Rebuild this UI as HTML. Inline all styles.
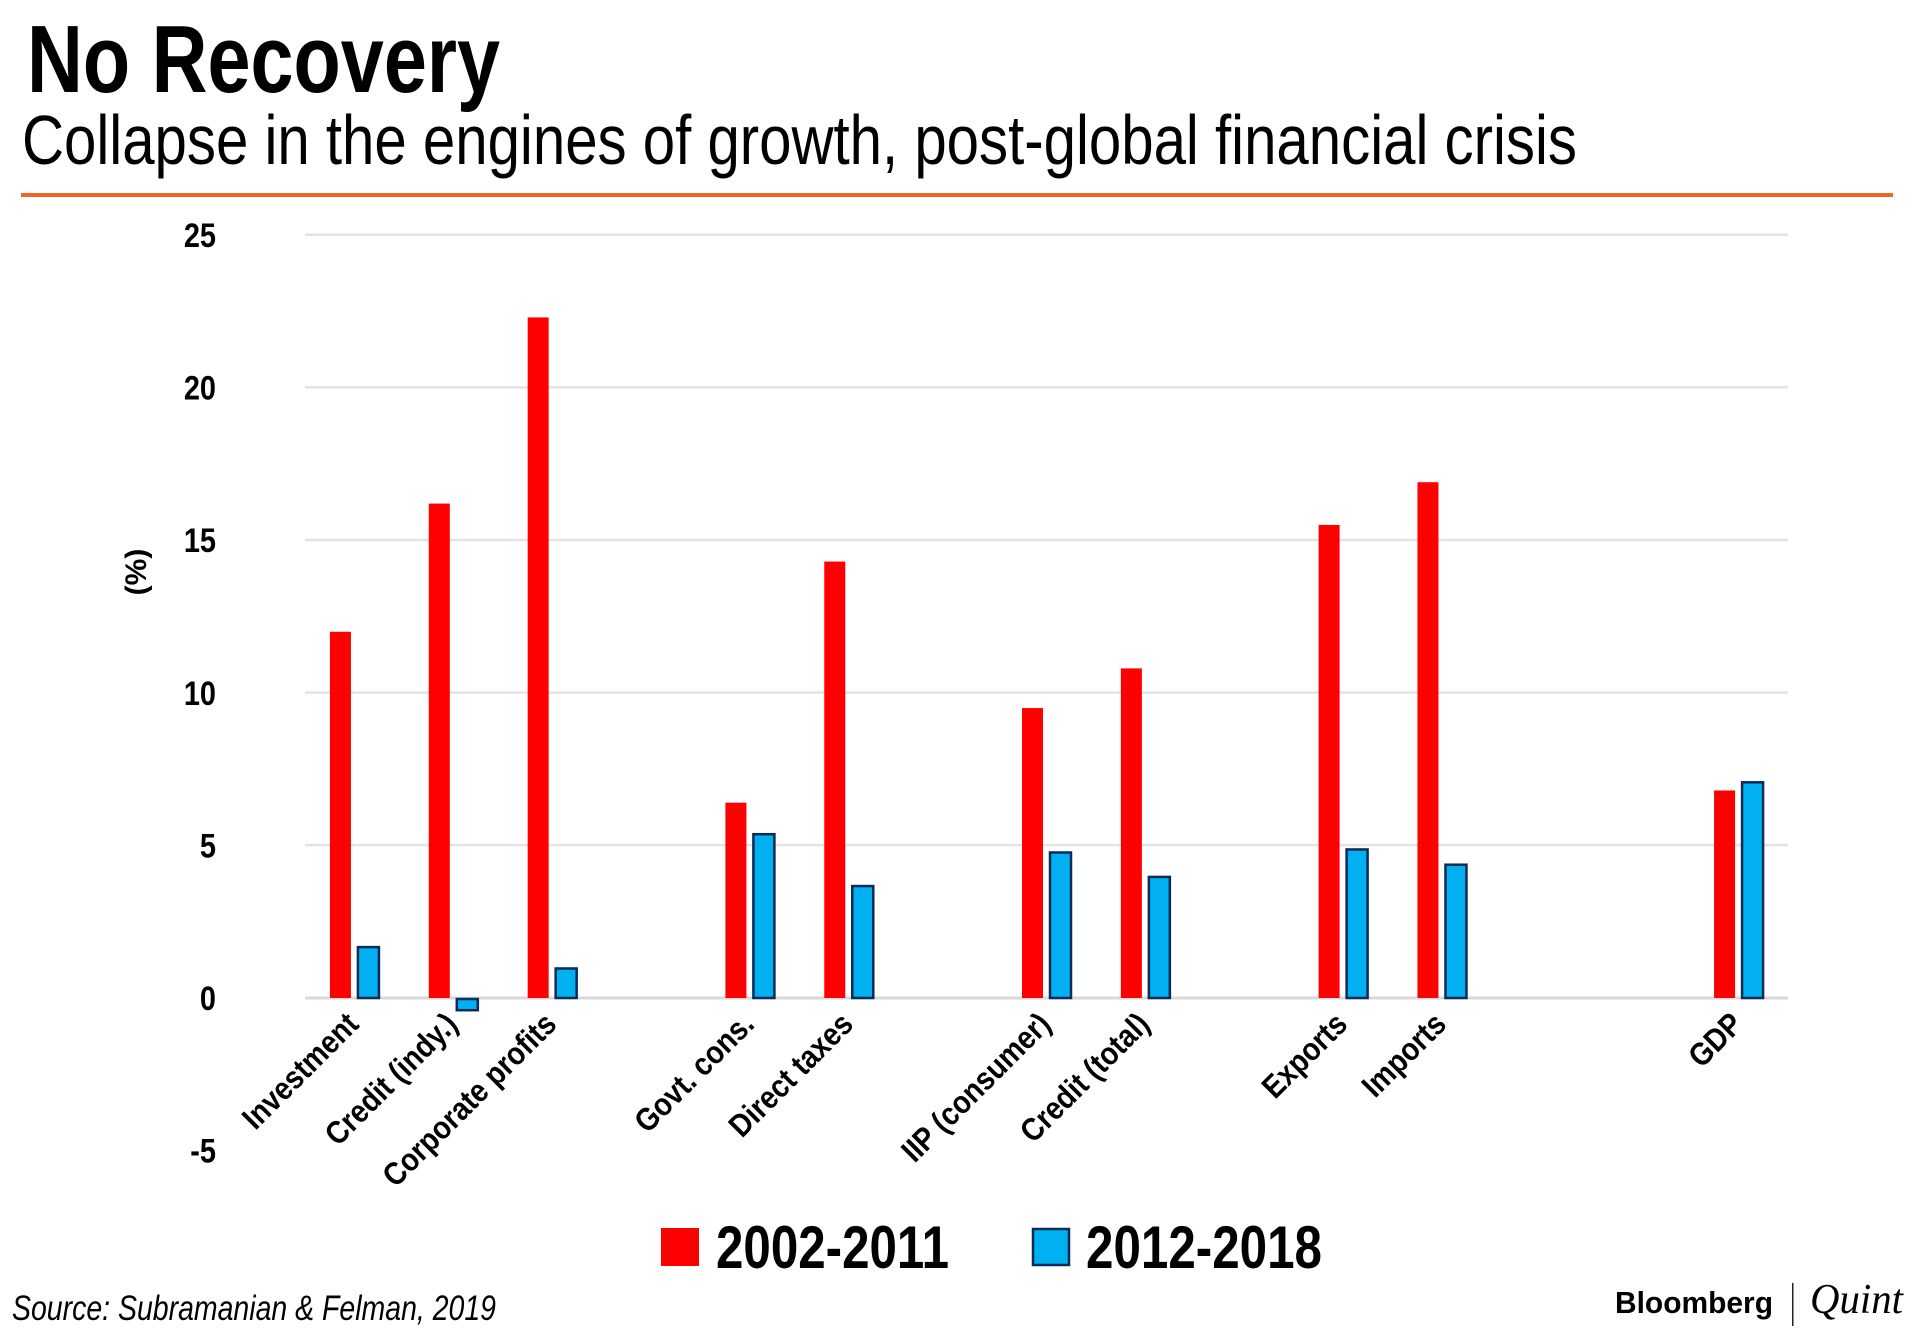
<!DOCTYPE html>
<html><head><meta charset="utf-8"><style>
html,body{margin:0;padding:0;background:#fff;}
svg{display:block;}
text{font-family:"Liberation Sans",sans-serif;}
</style></head><body>
<svg id="c" width="1920" height="1335" viewBox="0 0 1920 1335" xmlns="http://www.w3.org/2000/svg">
<text x="27" y="92" font-size="96" font-weight="bold" textLength="473" lengthAdjust="spacingAndGlyphs">No Recovery</text>
<text x="22" y="164" font-size="70" textLength="1555" lengthAdjust="spacingAndGlyphs">Collapse in the engines of growth, post-global financial crisis</text>
<rect x="21" y="193" width="1872" height="4" fill="#f26522"/>
<g id="grid"></g>
<g id="yt"></g>
<text transform="translate(146,572) rotate(-90)" text-anchor="middle" font-size="30" font-weight="bold">(%)</text>
<g id="bars"></g>
<g id="xl"></g>
<g>
<g>
<rect x="661" y="1228" width="38" height="38" fill="#ff0000"/>
<text x="716" y="1268" font-size="60" font-weight="bold" textLength="233" lengthAdjust="spacingAndGlyphs">2002-2011</text>
</g>
<g>
<rect x="1033" y="1229" width="36" height="36" fill="#00b0f0" stroke="#0b2a55" stroke-width="2.5"/>
<text x="1086" y="1268" font-size="60" font-weight="bold" textLength="236" lengthAdjust="spacingAndGlyphs">2012-2018</text>
</g>
</g>
<text x="12" y="1320" font-size="35" font-style="italic" textLength="484" lengthAdjust="spacingAndGlyphs">Source: Subramanian &amp; Felman, 2019</text>
<text x="1615" y="1313" font-size="31" font-weight="bold" textLength="158" lengthAdjust="spacingAndGlyphs">Bloomberg</text>
<rect x="1792" y="1283" width="1.5" height="43" fill="#222"/>
<text x="1810" y="1313" font-size="42" font-style="italic" textLength="93" lengthAdjust="spacingAndGlyphs" style="font-family:'Liberation Serif',serif">Quint</text>
</svg>
<script>
const categories = ["Investment","Credit (indy.)","Corporate profits","","Govt. cons.","Direct taxes","","IIP (consumer)","Credit (total)","","Exports","Imports","","","GDP"];
const series2002 = [12.0,16.2,22.3,null,6.4,14.3,null,9.5,10.8,null,15.5,16.9,null,null,6.8];
const series2012 = [1.7,-0.4,1.0,null,5.4,3.7,null,4.8,4.0,null,4.9,4.4,null,null,7.1];
const yTicks = [25,20,15,10,5,0,-5];
const NS="http://www.w3.org/2000/svg";
const X0=305, X1=1788, yZero=998, pxPer=152.6/5;
const slot=(X1-X0)/categories.length;
function xc(i){return X0+slot*(i+0.5);}
function y(v){return yZero - v*pxPer;}
function mk(tag,attrs,parent){const e=document.createElementNS(NS,tag);for(const k in attrs)e.setAttribute(k,attrs[k]);parent.appendChild(e);return e;}
const grid=document.getElementById('grid'), yt=document.getElementById('yt'), bars=document.getElementById('bars'), xl=document.getElementById('xl');
yTicks.forEach(t=>{
  if(t>=0){const g=mk('rect',{x:X0,y:y(t)-1.5,width:X1-X0,height:t===0?3:2.5,fill:t===0?'#d9d9d9':'#e3e3e3'},grid);
  
  }
  const tx=mk('text',{transform:`translate(216,${y(t)+12}) scale(0.85,1)`,'text-anchor':'end','font-size':34,'font-weight':'bold'},yt);
  tx.textContent=String(t);
  
  
});
categories.forEach((c,i)=>{
  const cx=xc(i);
  if(series2002[i]!==null){
    const v=series2002[i];
    const r=mk('rect',{x:cx-24.5,y:Math.min(y(v),yZero),width:21,height:Math.abs(y(v)-yZero),fill:'#ff0000'},bars);
    
    
  }
  if(series2012[i]!==null){
    const v=series2012[i];
    const r=mk('rect',{x:cx+3.5,y:Math.min(y(v),yZero)+1,width:21,height:Math.max(Math.abs(y(v)-yZero)-1,1),fill:'#00b0f0',stroke:'#0b2a55','stroke-width':2.5},bars);
    
    
  }
  if(c){
    const t=mk('text',{transform:`translate(${cx+6},${1026}) rotate(-45) scale(0.88,1)`,'text-anchor':'end','font-size':32,'font-weight':'bold'},xl);
    t.textContent=c;
    
    
  }
});
</script>
</body></html>
